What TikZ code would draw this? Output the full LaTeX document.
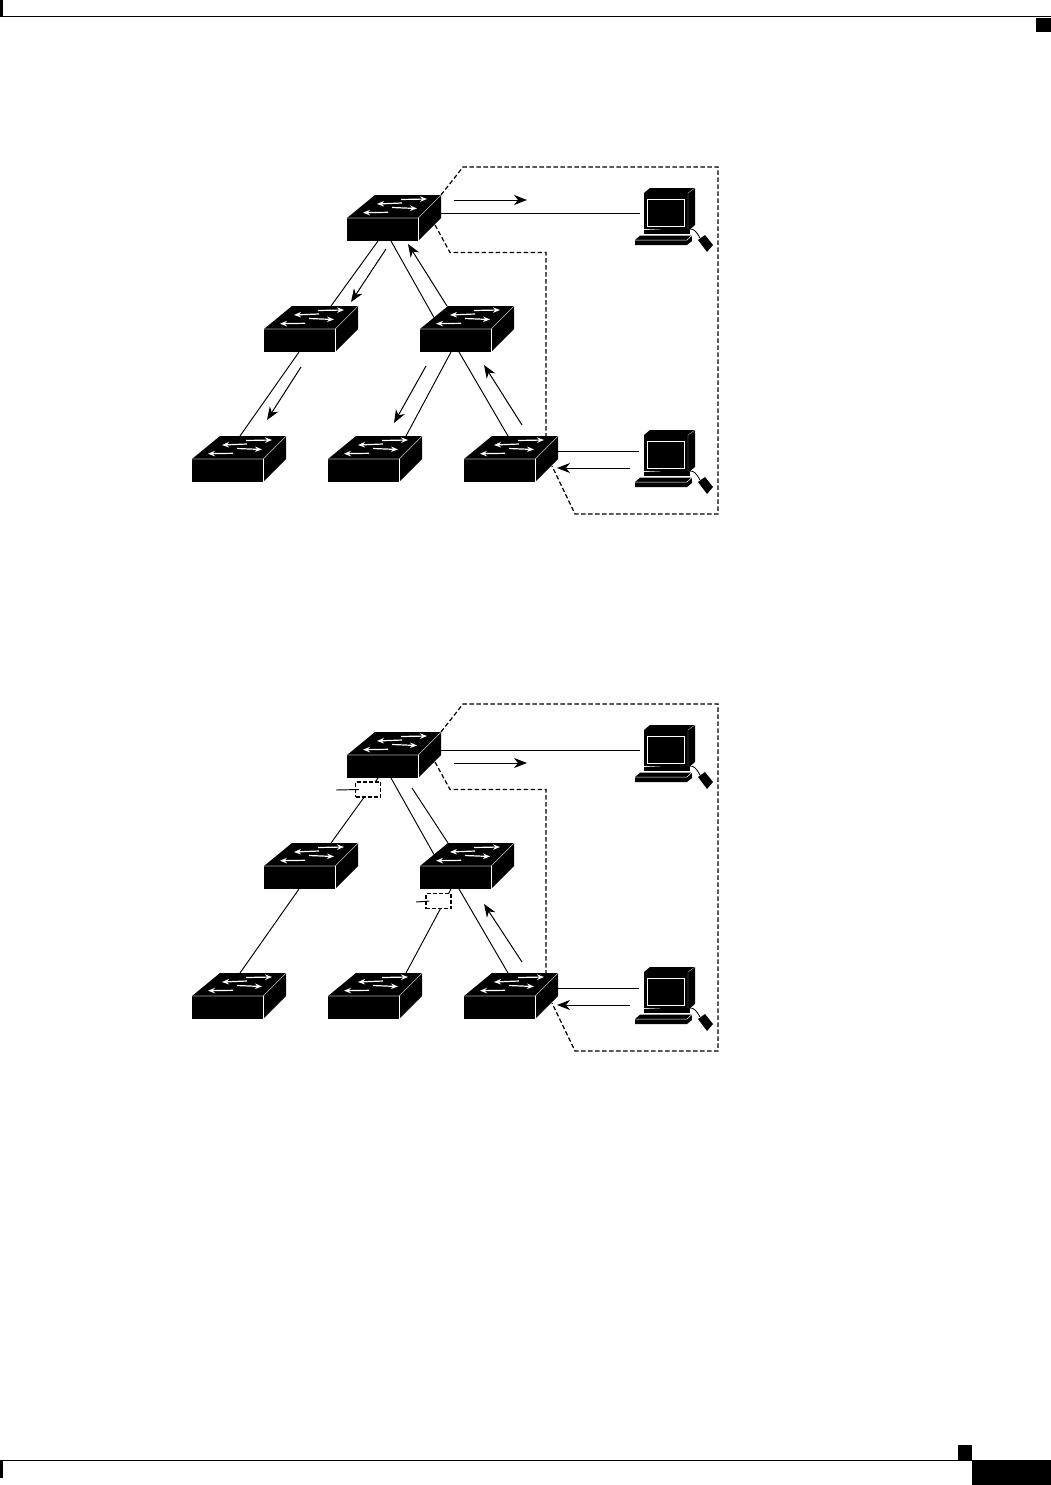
\documentclass[tikz,border=0pt]{standalone}
\usetikzlibrary{arrows.meta}

\tikzset{
  link/.style={line width=0.95pt},
  flowarrow/.style={line width=1pt,-{Stealth[length=13pt,width=10pt,inset=4pt]}},
  vlanedge/.style={line width=1.2pt,dash pattern=on 4.5pt off 2.5pt},
  blocked/.style={draw,fill=white,line width=1.1pt,dash pattern=on 4pt off 2pt,minimum width=25pt,minimum height=15pt,inner sep=0pt},
  swfront/.style={fill=black,minimum width=71pt,minimum height=23pt,inner sep=0pt,outer sep=0pt,anchor=north west},
  swarrow/.style={white,line width=1.2pt,-{Stealth[length=7pt,width=5.5pt]}},
  pics/lanswitch/.style={code={
    \begin{scope}[yscale=-1]
    \node[swfront] (-front) at (0,0) {};
    \coordinate (-back) at (28,-23);
    \coordinate (-backr) at (94,-23);
    \coordinate (-side) at (88,7);
    \coordinate (-left) at (14,-11.5);
    \fill (0,0) -- (28,-23) -- (94,-23) -- (94,0) -- (71,23) -- (71,0) -- cycle;
    \draw[gray!70,line width=0.7pt] (0,0) -- (71,0) -- (94,-23);
    \draw[white,line width=0.7pt] (71,0) -- (71,23);
    \draw[swarrow] (54,-18.5) -- (80,-19);
    \draw[swarrow] (55,-15) -- (30,-14);
    \draw[swarrow] (45,-10.5) -- (70,-9.5);
    \draw[swarrow] (41,-5.7) -- (16,-5.3);
    \end{scope}
  }},
  pics/workstation/.style={code={
    \begin{scope}[yscale=-1]
    \node[fill=black,minimum width=44pt,minimum height=36pt,inner sep=0pt,outer sep=0pt,anchor=north west] (-screen) at (0,0) {};
    \coordinate (-porta) at (-4,20);
    \coordinate (-portb) at (-5,16);
    \fill (0,0) -- (6,-5) -- (51,-5) -- (51,32) -- (44,38) -- (0,36) -- cycle;
    \draw[gray!60,line width=0.4pt] (44,0) -- (51,-5) (44,0) -- (44,36);
    \draw[white,line width=1pt] (3,6) rectangle (40,33);
    \fill (0,37) rectangle (46,41);
    \fill (-4,42.7) -- (47.7,42.7) -- (48,48) -- (43,52) -- (-9,52) -- (-9,47) -- cycle;
    \draw[white,line width=0.5pt] (-9,47) -- (43,47) -- (47.7,42.7);
    \draw[line width=0.8pt] (46,36) .. controls (50,36) and (52,38) .. (56,45);
    \fill (54,47) -- (61,42) -- (69,52) -- (63,59) -- cycle;
    \end{scope}
  }},
}

\begin{document}
\begin{tikzpicture}[x=1pt,y=1pt,yscale=-1,xscale=1]
\useasboundingbox (0,0) rectangle (1051,1485);

% page header and footer
\fill (0,0) rectangle (3,17);
\draw[line width=1pt] (0,17) -- (1051,17);
\fill (1036,18) rectangle (1051,32);
\fill (0,1460) rectangle (3,1478);
\draw[line width=1pt] (0,1460) -- (972,1460);
\fill (958,1445) rectangle (972,1460);
\fill (972,1460) rectangle (1051,1485);

% upper network
\pic (asw1) at (347,218) {lanswitch};
\pic (asw2) at (264,329) {lanswitch};
\pic (asw3) at (420,329) {lanswitch};
\pic (asw4) at (192,459) {lanswitch};
\pic (asw5) at (328,459) {lanswitch};
\pic (asw6) at (464,459) {lanswitch};
\pic (apc1) at (644,193) {workstation};
\pic (apc2) at (644,435) {workstation};

\draw[link] ([xshift=31pt]asw1-front.south west) -- ([xshift=39pt]asw2-back);
\draw[link] ([xshift=44pt]asw1-front.south west) -- (asw3-left);
\draw[link] ([xshift=35pt]asw2-front.south west) -- ([xshift=20pt]asw4-back);
\draw[link] ([xshift=31pt]asw3-front.south west) -- ([xshift=50pt]asw5-back);
\draw[link] ([xshift=39pt]asw3-front.south west) -- ([xshift=16pt]asw6-back);
\draw[link] (asw1-backr |- apc1-porta) -- (apc1-porta);
\draw[link] (asw6-backr |- apc2-portb) -- (apc2-portb);

\coordinate (afa1) at (454,200); \coordinate (afb1) at (527,200);
\coordinate (afa2) at (386,249); \coordinate (afb2) at (351,302);
\coordinate (afa3) at (447,306); \coordinate (afb3) at (408,244);
\coordinate (afa4) at (301,367); \coordinate (afb4) at (267,420);
\coordinate (afa5) at (426,366); \coordinate (afb5) at (394,423);
\coordinate (afa6) at (522,425); \coordinate (afb6) at (484,365);
\coordinate (afa7) at (630,468); \coordinate (afb7) at (557,468);
\draw[flowarrow] (afa1) -- (afb1);
\draw[flowarrow] (afa2) -- (afb2);
\draw[flowarrow] (afa3) -- (afb3);
\draw[flowarrow] (afa4) -- (afb4);
\draw[flowarrow] (afa5) -- (afb5);
\draw[flowarrow] (afa6) -- (afb6);
\draw[flowarrow] (afa7) -- (afb7);

\draw[vlanedge] (asw1-backr) -- (463,167) -- (718,167) -- (718,514) -- (575,514) -- (asw6-side);
\draw[vlanedge] (asw1-side) -- (450,252.5) -- (546,252.5) -- ([xshift=54pt]asw6-back);

% lower network
\pic (bsw1) at (347,755) {lanswitch};
\pic (bsw2) at (264,866) {lanswitch};
\pic (bsw3) at (420,866) {lanswitch};
\pic (bsw4) at (192,996) {lanswitch};
\pic (bsw5) at (328,996) {lanswitch};
\pic (bsw6) at (464,996) {lanswitch};
\pic (bpc1) at (644,730) {workstation};
\pic (bpc2) at (644,972) {workstation};

\draw[link] ([xshift=31pt]bsw1-front.south west) -- ([xshift=39pt]bsw2-back);
\draw[link] ([xshift=44pt]bsw1-front.south west) -- (bsw3-left);
\draw[link] ([xshift=35pt]bsw2-front.south west) -- ([xshift=20pt]bsw4-back);
\draw[link] ([xshift=31pt]bsw3-front.south west) -- ([xshift=50pt]bsw5-back);
\draw[link] ([xshift=39pt]bsw3-front.south west) -- ([xshift=16pt]bsw6-back);
\draw[link] (bsw1-backr |- bpc1-porta) -- (bpc1-porta);
\draw[link] (bsw6-backr |- bpc2-portb) -- (bpc2-portb);
\coordinate (bpar) at (412,788);
\draw[link] (bpar) -- (bsw3-back);

% blocked ports
\node[blocked] (bblk1) at (368,789.5) {};
\node[blocked] (bblk2) at (438.5,901) {};
\coordinate (bstub1) at (336,790);
\coordinate (bstub2) at (416,902);
\draw[link] (bstub1) -- ([xshift=4pt]bblk1.west);
\draw[link] (bstub2) -- ([xshift=4pt]bblk2.west);

\coordinate (bfa1) at (454,763); \coordinate (bfb1) at (527,763);
\coordinate (bfa6) at (522,962); \coordinate (bfb6) at (484,904);
\coordinate (bfa7) at (630,1005); \coordinate (bfb7) at (557,1005);
\draw[flowarrow] (bfa1) -- (bfb1);
\draw[flowarrow] (bfa6) -- (bfb6);
\draw[flowarrow] (bfa7) -- (bfb7);

\draw[vlanedge] (bsw1-backr) -- (463,704) -- (718,704) -- (718,1051) -- (575,1051) -- (bsw6-side);
\draw[vlanedge] (bsw1-side) -- (450,789.5) -- (546,789.5) -- ([xshift=54pt]bsw6-back);

\end{tikzpicture}
\end{document}
